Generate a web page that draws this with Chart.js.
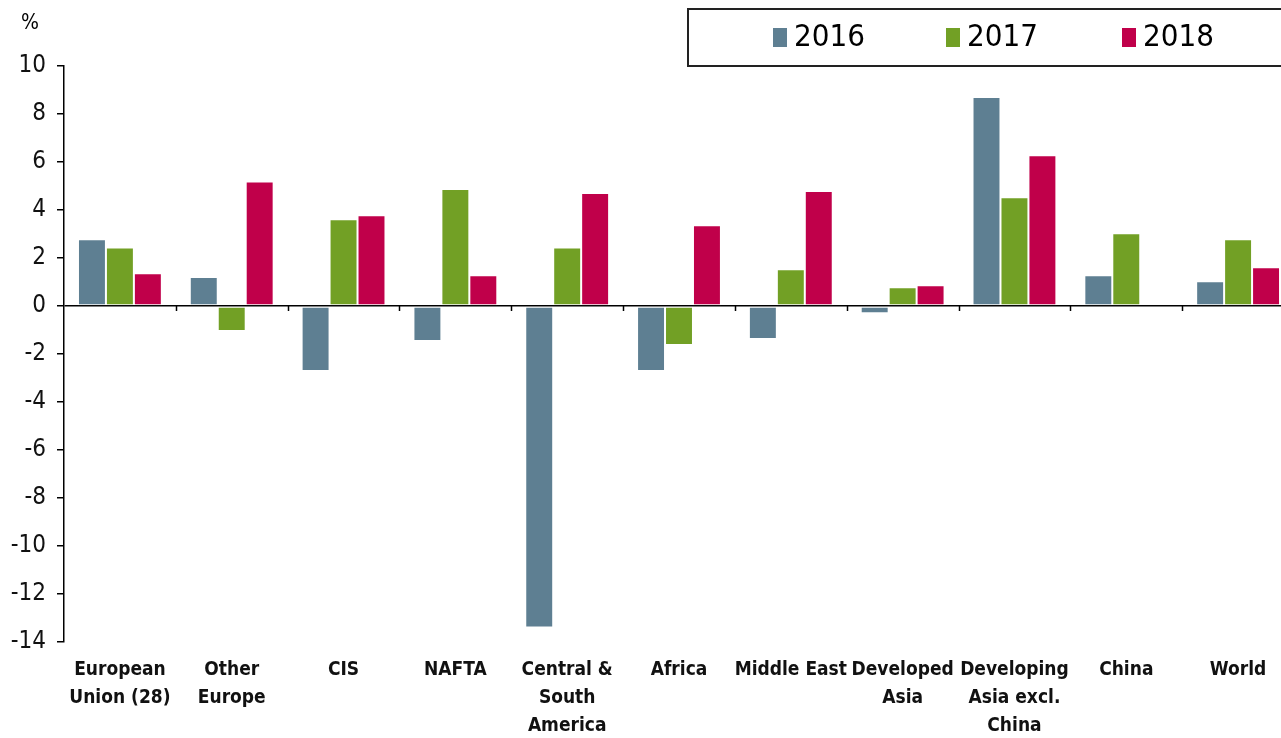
<!DOCTYPE html>
<html>
<head>
<meta charset="utf-8">
<script src="https://cdn.jsdelivr.net/npm/chart.js@4.4.1/dist/chart.umd.min.js"></script>
<style>
  html, body { margin: 0; padding: 0; background: #fff; overflow: hidden; }
  #wrap { width: 1294px; height: 738px; }
</style>
</head>
<body>
<div id="wrap"><canvas id="myChart" width="1294" height="738"></canvas></div>
<script>
// chart data
const regions = [
  ['European', 'Union (28)'], ['Other', 'Europe'], 'CIS', 'NAFTA',
  ['Central &', 'South', 'America'], 'Africa', 'Middle East',
  ['Developed', 'Asia'], ['Developing', 'Asia excl.', 'China'], 'China', 'World'
];
const years = ['2016', '2017', '2018'];
const values2016 = [2.78, 1.21, -2.71, -1.46, -13.4, -2.71, -1.38, -0.3, 8.71, 1.28, 1.03];
const values2017 = [2.44, -1.04, 3.61, 4.87, 2.44, -1.62, 1.53, 0.78, 4.53, 3.03, 2.78];
const values2018 = [1.36, 5.19, 3.78, 1.28, 4.71, 3.36, 4.79, 0.86, 6.28, null, 1.61];
const yTicks = [-14, -12, -10, -8, -6, -4, -2, 0, 2, 4, 6, 8, 10];

const colors = ['#5e7f92', '#72a025', '#c0004a'];
const narrow = '"Liberation Sans Narrow", "Arial Narrow", "DejaVu Sans Condensed", sans-serif';

// tick marks on the zero line, between categories
const zeroTicks = {
  id: 'zeroTicks',
  afterDatasetsDraw(chart) {
    const { ctx, scales: { x, y } } = chart;
    const y0 = y.getPixelForValue(0);
    const half = (x.getPixelForValue(1) - x.getPixelForValue(0)) / 2;
    ctx.save();
    ctx.strokeStyle = '#000';
    ctx.lineWidth = 1.5;
    for (let i = 0; i < regions.length - 1; i++) {
      const px = Math.round(x.getPixelForValue(i) + half) + 0.5;
      ctx.beginPath();
      ctx.moveTo(px, y0);
      ctx.lineTo(px, y0 + 5);
      ctx.stroke();
    }
    ctx.restore();
  }
};

// boxed legend and % unit label
const boxLegend = {
  id: 'boxLegend',
  afterDraw(chart) {
    const ctx = chart.ctx;
    ctx.save();
    ctx.strokeStyle = '#222';
    ctx.lineWidth = 2;
    ctx.strokeRect(688, 9, 700, 57);
    ctx.font = '31px ' + narrow;
    ctx.textBaseline = 'middle';
    const xs = [773, 946, 1122];
    chart.data.datasets.forEach((ds, i) => {
      ctx.fillStyle = ds.backgroundColor;
      ctx.fillRect(xs[i], 28, 14, 19);
      ctx.fillStyle = '#000';
      ctx.fillText(ds.label, xs[i] + 21, 38);
    });
    ctx.font = '21px ' + narrow;
    ctx.textBaseline = 'top';
    ctx.fillText('%', 21, 13);
    ctx.restore();
  }
};

const seriesValues = [values2016, values2017, values2018];

const ctx = document.getElementById('myChart').getContext('2d');
const myChart = new Chart(ctx, {
  type: 'bar',
  data: {
    labels: regions,
    datasets: years.map((yr, i) => ({
      label: yr,
      data: seriesValues[i],
      backgroundColor: colors[i],
      borderColor: 'rgba(255,255,255,0.45)',
      borderWidth: 1,
      borderSkipped: false,
      categoryPercentage: 0.75,
      barPercentage: 1.0
    }))
  },
  options: {
    responsive: false,
    animation: false,
    layout: { padding: { top: 66, right: 0, bottom: 0, left: 0 } },
    plugins: {
      legend: { display: false },
      tooltip: { enabled: false }
    },
    scales: {
      x: {
        offset: true,
        afterFit(scale) { scale.height = 96; },
        border: { display: false },
        grid: { display: false, drawTicks: false },
        ticks: {
          padding: 14,
          maxRotation: 0,
          autoSkip: false,
          color: '#111',
          font: { family: narrow, size: 19, weight: 'bold', lineHeight: '28px' }
        }
      },
      y: {
        min: -14,
        max: 10,
        afterBuildTicks(scale) { scale.ticks = yTicks.map(v => ({ value: v })); },
        afterFit(scale) { scale.width = 64; },
        border: { display: true, color: '#000', width: 1.5 },
        grid: {
          drawOnChartArea: true,
          color: c => (c.tick && c.tick.value === 0 ? '#000' : 'transparent'),
          lineWidth: 1.5,
          tickColor: '#000',
          tickLength: 7
        },
        ticks: {
          padding: 11,
          color: '#111',
          font: { family: narrow, size: 24 }
        }
      }
    }
  },
  plugins: [zeroTicks, boxLegend]
});
</script>
</body>
</html>
